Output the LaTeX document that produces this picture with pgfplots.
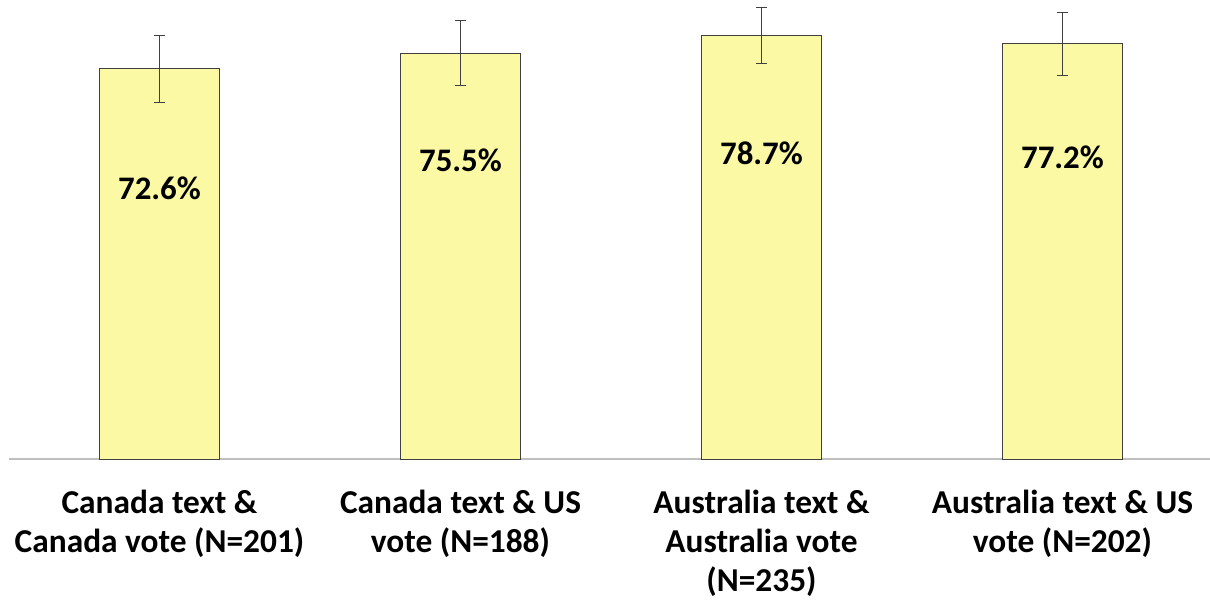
\documentclass[border=0pt]{standalone}
\usepackage{fontspec}
\setmainfont{Carlito}
\usepackage{pgfplots}
\pgfplotsset{compat=1.18}
\definecolor{baryellow}{HTML}{FBF9A3}
\definecolor{edgegray}{HTML}{404040}
\definecolor{axisgray}{HTML}{BFBFBF}

\begin{document}
\begin{tikzpicture}
    \begin{axis}[
        scale only axis,
        width=1204bp, height=457bp,
        xmin=-0.5, xmax=3.5,
        ymin=0, ymax=85,
        axis x line=bottom,
        axis y line=none,
        x axis line style={axisgray, line width=1.2bp, -},
        xtick=data,
        xtick style={draw=none},
        xticklabels={
            {Canada text \&\\Canada vote (N=201)},
            {Canada text \& US\\vote (N=188)},
            {Australia text \&\\Australia vote\\(N=235)},
            {Australia text \& US\\vote (N=202)}},
        xticklabel style={align=center, font=\fontsize{33.5}{39.5}\selectfont\bfseries,
            yshift=-25bp},
        ytick=\empty,
        clip=false,
        ]
        \addplot[
            ybar, bar width=0.4,
            fill=baryellow, draw=edgegray, line width=1bp,
            error bars/.cd,
            y dir=both, y explicit,
            error bar style={edgegray, line width=1bp},
            error mark options={rotate=90, mark size=5.5bp, line width=1bp, edgegray},
        ]
        coordinates {
                (0,72.6) +- (0,6.2)
                (1,75.5) +- (0,6.1)
                (2,78.7) +- (0,5.2)
                (3,77.2) +- (0,5.8)
            };

        \node[font=\fontsize{33}{36}\selectfont\bfseries] at (axis cs:0,50.4) {72.6\%};
        \node[font=\fontsize{33}{36}\selectfont\bfseries] at (axis cs:1,55.6) {75.5\%};
        \node[font=\fontsize{33}{36}\selectfont\bfseries] at (axis cs:2,56.9) {78.7\%};
        \node[font=\fontsize{33}{36}\selectfont\bfseries] at (axis cs:3,56.1) {77.2\%};

        \coordinate (bl) at (rel axis cs:0,0);
    \end{axis}
    \pgfresetboundingbox
    \path (bl) ++(-9bp,-141bp) rectangle ++(1210bp,600bp);
\end{tikzpicture}
\end{document}
